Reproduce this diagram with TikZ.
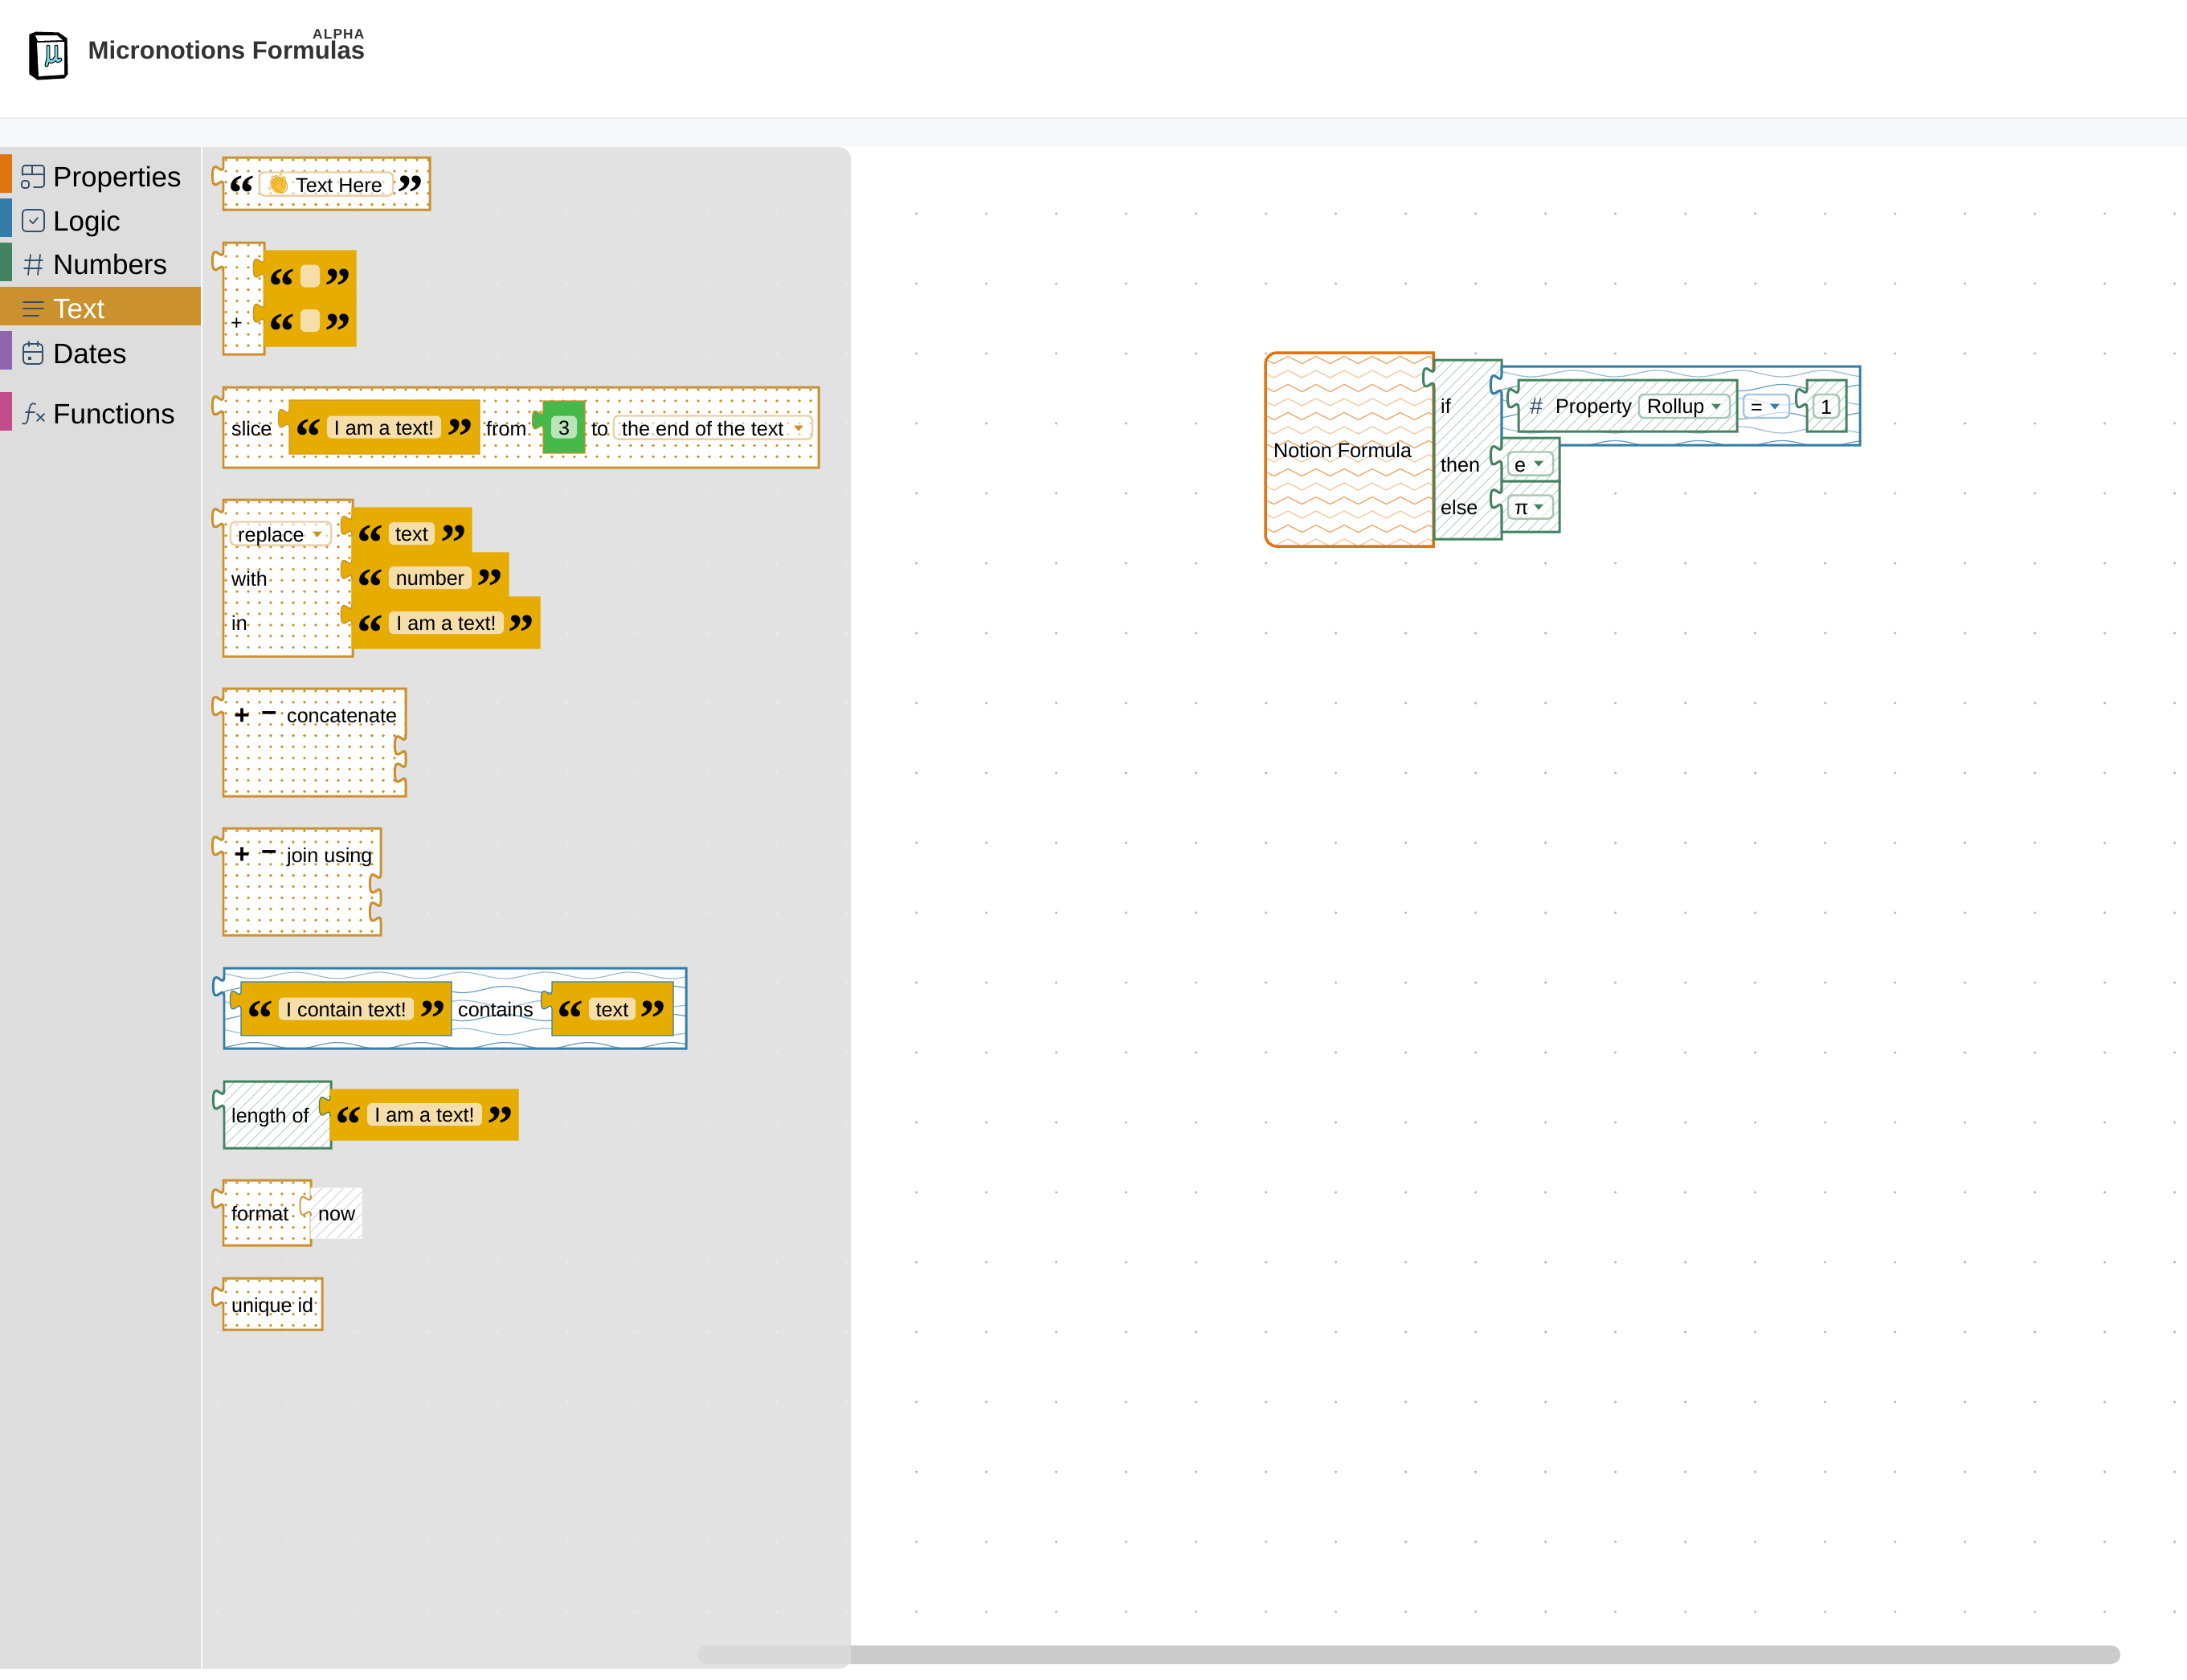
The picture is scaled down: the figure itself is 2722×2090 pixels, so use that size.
\documentclass[tikz,border=0pt]{standalone}
\usepackage{fontspec}
\setmainfont{Liberation Sans}
\newfontfamily\quotefont{Liberation Serif}
\newfontfamily\emojifont{Noto Emoji}
\newfontfamily\alphafont[LetterSpace=7.0]{Liberation Sans}

\definecolor{textorange}{HTML}{CB912F}
\definecolor{propsorange}{HTML}{DF7410}
\definecolor{logicblue}{HTML}{337EA9}
\definecolor{numgreen}{HTML}{448361}
\definecolor{datepurple}{HTML}{9065B0}
\definecolor{funcpink}{HTML}{C14C8A}
\definecolor{iconink}{HTML}{37506A}
\definecolor{quoteyellow}{HTML}{E6AC00}
\definecolor{pillcream}{HTML}{F5DEA8}
\definecolor{pilltan}{HTML}{E9D2AA}
\definecolor{pillgreen}{HTML}{A6C6B3}
\definecolor{pillblue}{HTML}{A3C6DD}
\definecolor{flyoutgrey}{HTML}{E2E2E2}
\definecolor{sidegrey}{HTML}{DDDDDD}
\definecolor{bandgrey}{HTML}{F7F8FA}
\definecolor{hairgrey}{HTML}{E8ECF0}
\definecolor{barcanvas}{HTML}{CBCBCB}
\definecolor{barflyout}{HTML}{D9D9D9}
\definecolor{logocyan}{HTML}{7FDCE5}
\definecolor{handyellow}{HTML}{F9C23C}
\definecolor{handedge}{HTML}{E39A1A}
\definecolor{numbergreen}{HTML}{45B94A}
\definecolor{numberpill}{HTML}{B9E5B9}

\tikzset{
	blocktext/.style={font=\fontsize{7.15pt}{8pt}\selectfont, inner sep=0pt, anchor=base west, xshift=-.15pt, yshift=-.3pt},
	menutext/.style={font=\fontsize{9.95pt}{11pt}\selectfont, inner sep=0pt, anchor=base west, yshift=-.2pt},
	mathsign/.style={font=\bfseries\fontsize{9.5pt}{10pt}\selectfont, inner sep=0pt},
	qmark/.style={font=\quotefont\bfseries\fontsize{18.6pt}{19pt}\selectfont, inner sep=0pt, anchor=base},
	pill/.style={font=\fontsize{7.15pt}{8pt}\selectfont, inner sep=0pt, rounded corners=1.7pt,
		text height=6.4pt, text depth=1pt, minimum height=.28cm},
	creampill/.style={pill, fill=pillcream},
	linepill/.style={pill, draw=#1, line width=.7pt, fill=white, fill opacity=.6, text opacity=1, minimum height=.29cm},
	icon/.style={draw=iconink, line width=.5pt, line cap=round, line join=round},
	dotfill/.style={fill=textorange},
	hatchline/.style={line width=.28pt},
	blockline/.style={line width=.85pt, line join=miter},
	thinline/.style={line width=.35pt},
}

\newcommand\tabup{.. controls +(0,-17) and +(0,26.35) .. ++(-13.6,-12.75) .. controls +(0,-26.35) and +(0,17) .. ++(13.6,-12.75)}
\newcommand\tabdown{.. controls +(0,17) and +(0,-26.35) .. ++(-13.6,12.75) .. controls +(0,26.35) and +(0,-17) .. ++(13.6,12.75)}

\newcommand\puzzle[6]{\path[#1] (#2,#3) -- (#4,#3) -- (#4,#5) -- (#2,#5) -- (#2,{#6+25.5}) \tabup -- cycle;}

\newcommand\dotsin[4]{
	\pgfmathtruncatemacro\ncols{(#3-#1-3)/14}
	\pgfmathtruncatemacro\nrows{(#4-#2-3)/13.9}
	\foreach \p in {0,...,\ncols} \foreach \q in {0,...,\nrows}
		\fill[dotfill] ({#1+3+14*\p},{#2+3+13.9*\q}) circle (1.9);
}
\newcommand\hatchin[5]{
	\pgfmathtruncatemacro\nlines{(#3-#1+#4-#2)/13.5}
	\begin{scope}
		\clip (#1,#2) rectangle (#3,#4);
		\foreach \k in {0,...,\nlines}
			\draw[hatchline,#5] ({#1-(#4-#2)+13.5*\k},#4) -- ++({#4-#2},{-(#4-#2)});
	\end{scope}
}
\newcommand\wavesin[4]{
	\pgfmathtruncatemacro\nrows{(#4-#2)/17.5}
	\begin{scope}
		\clip (#1,#2) rectangle (#3,#4);
		\foreach \r in {0,...,\nrows} {
			\pgfmathsetmacro\wy{#2+9+17.5*\r}
			\pgfmathsetmacro\ph{-38+180*mod(\r,2)}
			\pgfmathsetmacro\shade{50+25*mod(\r,2)}
			\draw[logicblue!\shade!white, line width=.35pt] plot[domain=#1:#3, samples=40, smooth] (\x,{\wy+4*sin((\x-#1)/104*360+\ph)});
		}
	\end{scope}
}

\newcommand\dotblock[5]{
	\puzzle{fill=white}{#1}{#2}{#3}{#4}{#5}
	\dotsin{#1}{#2}{#3}{#4}
	\puzzle{draw=textorange, blockline}{#1}{#2}{#3}{#4}{#5}
}
\newcommand\hatchblock[6]{
	\puzzle{fill=white}{#1}{#2}{#3}{#4}{#5}
	\hatchin{#1}{#2}{#3}{#4}{#6!40!white}
	\puzzle{draw=#6, blockline}{#1}{#2}{#3}{#4}{#5}
}
\newcommand\waveblock[5]{
	\puzzle{fill=white}{#1}{#2}{#3}{#4}{#5}
	\wavesin{#1}{#2}{#3}{#4}
	\puzzle{draw=logicblue, blockline}{#1}{#2}{#3}{#4}{#5}
}
% child block with its thin rim
\newcommand\flatblock[7]{\puzzle{fill=#6, draw=#7, thinline}{#1}{#2}{#3}{#4}{#5}}
\newcommand\ddarrow[3]{\fill[#3] ({#1-6},{#2-3.5}) -- ({#1+6},{#2-3.5}) -- (#1,{#2+3.5}) -- cycle;}
\newcommand\qopen[3]{\node[qmark] (#1) at (#2,{#3+34}) {“};}
\newcommand\qclose[3]{\node[qmark] (#1) at (#2,{#3+34}) {”};}

\begin{document}
\begin{tikzpicture}[x=.01cm, y=-.01cm]
	\useasboundingbox (0,0) rectangle (2722,2090);
	\fill[white] (0,0) rectangle (2722,2090);

	% header
	\fill[bandgrey] (0,148) rectangle (2722,183);
	\fill[hairgrey] (0,146) rectangle (2722,148);
	\begin{scope}
		\filldraw[black, line width=.3pt, line join=round] (37,43) -- (45,40) -- (73,41) -- (83,48) -- (84,92) -- (80,97) -- (47,99) -- (37,92) -- cycle;
		\fill[white] (44,44) -- (71,44) -- (78,50) -- (47,51) -- cycle;
		\fill[white] (46,53) -- (80,52) -- (80,93) -- (48,95) -- cycle;
		\foreach \ink/\wd in {black/1.4pt, logocyan/.75pt}
			\draw[\ink, line width=\wd, line cap=round] (60,58) -- (60,73) .. controls (60,78) and (67,78) .. (69,72) (70,58) -- (70,72) .. controls (70,77) and (73,76) .. (75,74) (60,73) -- (58,81);
	\end{scope}
	\node[inner sep=0pt, anchor=base west, text=black!80, font=\bfseries\fontsize{8.86pt}{10pt}\selectfont] (appTitle) at (109,73) {Micronotions Formulas};
	\node[inner sep=0pt, anchor=base east, text=black!80, font=\alphafont\bfseries\fontsize{4.9pt}{5pt}\selectfont] (appBadge) at (454,48) {ALPHA};

	% canvas dots and scrollbar
	\foreach \i in {10,...,28} \foreach \j in {0,...,20}
		\fill[black!28] ({1140.6+87*(\i-10)},{266+87*\j}) circle (1.7);
	\fill[barcanvas, rounded corners=3.2pt] (868,2048) rectangle (2639,2071);

	% sidebar and flyout
	\fill[sidegrey] (0,183) rectangle (250,2077);
	\fill[white!85!flyoutgrey] (250,183) rectangle (252,2077);
	\fill[flyoutgrey] (252,183) [rounded corners=4.3pt] -- (1059,183) -- (1059,2077) [sharp corners] -- (252,2077) -- cycle;
	\begin{scope}
		\clip (252,183) rectangle (1059,2077);
		\fill[barflyout, rounded corners=3.2pt] (868,2048) rectangle (2639,2071);
	\end{scope}
	\foreach \i in {0,...,9} \foreach \j in {0,...,20}
		\fill[black!7] ({271+87*\i},{266+87*\j}) circle (1.6);

	\fill[propsorange] (0,192) rectangle (15,240);
	\fill[logicblue] (0,247) rectangle (15,295);
	\fill[numgreen] (0,302) rectangle (15,350);
	\fill[textorange] (0,357) rectangle (250,405);
	\fill[datepurple] (0,412) rectangle (15,460);
	\fill[funcpink] (0,488) rectangle (15,536);

	\node[menutext] (propsItem) at (65.5,232) {Properties};
	\node[menutext] (logicItem) at (65.5,287) {Logic};
	\node[menutext] (numItem) at (65.5,341) {Numbers};
	\node[menutext, text=white] (textItem) at (65.5,396) {Text};
	\node[menutext] (datesItem) at (65.5,452) {Dates};
	\node[menutext] (funcItem) at (65.5,527) {Functions};

	% menu icons
	\draw[icon, rounded corners=.9pt] (28,218) -- (28,206) -- (55,206) -- (55,233) -- (42,233);
	\draw[icon] (28,217) -- (55,217) (40,206) -- (40,217);
	\draw[icon, rounded corners=.8pt] (27,225) rectangle (36,234);
	\draw[icon, rounded corners=1.2pt] (28,261) rectangle (55,288);
	\draw[icon] (37,274) -- (41,278) -- (47,271);
	\draw[icon] (38,317) -- (35,342) (50,317) -- (47,342) (31,324) -- (53,324) (30,334) -- (52,334);
	\draw[icon] (29,376) -- (54,376) (29,384) -- (54,384) (29,393) -- (48,393);
	\draw[icon, rounded corners=1.2pt] (29,428) rectangle (53,453);
	\draw[icon] (29,438) -- (53,438) (36,425) -- (36,431) (47,425) -- (47,431);
	\fill[iconink] (35,444) rectangle (39,448);
	\draw[icon] (44,503) .. controls (38,500) and (37,506) .. (36,512) .. controls (35,519) and (35,530) .. (28,527) (32,513) -- (43,513) (46,515) -- (55,524) (55,515) -- (46,524);

	% text literal
	\dotblock{278}{196}{535}{261}{206}
	\node[linepill=pilltan, minimum width=1.66cm] (hereField) at (406,229) {};
	\qopen{hereOpen}{301}{228}
	\fill[handyellow] (347,230) ellipse (9.5 and 10.5);
	\node[inner sep=0pt, text=handedge, font=\emojifont\fontsize{7pt}{8pt}\selectfont] (hereHand) at (346,228) {👋};
	\node[blocktext] (hereText) at (368,238) {Text Here};
	\qclose{hereClose}{511}{228}

	% plus
	\dotblock{278}{302}{329}{441}{312}
	\flatblock{329}{312}{443}{376}{321}{quoteyellow}{quoteyellow}
	\flatblock{329}{376}{443}{431}{377}{quoteyellow}{quoteyellow}
	\draw[textorange, thinline] (329,346.5) \tabup;
	\draw[textorange, thinline] (329,402.5) \tabup;
	\node[blocktext, anchor=center] (plusText) at (295,402) {+};
	\qopen{plusOpenA}{351}{344}
	\node[creampill, minimum width=.24cm] (plusFieldA) at (386,343.5) {};
	\qclose{plusCloseA}{421}{344}
	\qopen{plusOpenB}{351}{400}
	\node[creampill, minimum width=.24cm] (plusFieldB) at (386,399) {};
	\qclose{plusCloseB}{421}{400}

	% slice
	\dotblock{278}{482}{1019}{582}{492}
	\node[blocktext] (sliceText) at (288,541) {slice};
	\flatblock{360}{498}{597}{565}{508}{quoteyellow}{textorange!70!quoteyellow}
	\qopen{sliceOpen}{384}{531}
	\node[creampill, minimum width=1.42cm] (sliceField) at (478,531.5) {I am a text!};
	\qclose{sliceClose}{573}{531}
	\node[blocktext] (fromText) at (605,541) {from};
	\flatblock{676}{499}{728}{564}{510}{numbergreen}{textorange}
	\node[pill, fill=numberpill, minimum width=.32cm] (fromField) at (702,531.5) {3};
	\node[blocktext] (toText) at (736,541) {to};
	\node[linepill=pilltan, minimum width=2.47cm] (toField) at (887.5,532) {};
	\node[blocktext] (toValue) at (774,541) {the end of the text};
	\ddarrow{994}{533}{textorange}

	% replace
	\dotblock{278}{622}{439}{817}{632}
	\node[linepill=pilltan, minimum width=1.25cm] (replaceField) at (349.5,664) {};
	\node[blocktext] (replaceText) at (296,673) {replace};
	\ddarrow{395}{665}{textorange}
	\node[blocktext] (withText) at (288,728) {with};
	\node[blocktext] (inText) at (288,783) {in};
	\flatblock{438}{632}{587}{688}{641}{quoteyellow}{quoteyellow}
	\flatblock{438}{688}{633}{743}{696}{quoteyellow}{quoteyellow}
	\flatblock{438}{743}{672}{807}{752}{quoteyellow}{quoteyellow}
	\draw[textorange, thinline] (438,666.5) \tabup;
	\draw[textorange, thinline] (438,721.5) \tabup;
	\draw[textorange, thinline] (438,777.5) \tabup;
	\qopen{replaceOpenA}{461}{663}
	\node[creampill, minimum width=.57cm] (replaceFieldA) at (512.5,664) {text};
	\qclose{replaceCloseA}{565}{663}
	\qopen{replaceOpenB}{461}{718}
	\node[creampill, minimum width=1.03cm] (replaceFieldB) at (535.5,719) {number};
	\qclose{replaceCloseB}{610}{718}
	\qopen{replaceOpenC}{461}{775}
	\node[creampill, minimum width=1.43cm] (replaceFieldC) at (555.5,775) {I am a text!};
	\qclose{replaceCloseC}{649}{775}

	% concatenate
	\def\concatshape{(278,857) -- (505,857) -- (505,915) \tabdown -- (505,949) \tabdown -- (505,991) -- (278,991) -- (278,891.5) \tabup -- cycle}
	\fill[white] \concatshape;
	\begin{scope}
		\clip \concatshape;
		\dotsin{278}{857}{505}{991}
	\end{scope}
	\draw[textorange, blockline] \concatshape;
	\node[mathsign] (concatPlus) at (301,892) {+};
	\node[mathsign] (concatMinus) at (335,892) {−};
	\node[blocktext] (concatText) at (357,898) {concatenate};

	% join using
	\def\joinshape{(278,1031) -- (474,1031) -- (474,1087) \tabdown -- (474,1122) \tabdown -- (474,1164) -- (278,1164) -- (278,1065.5) \tabup -- cycle}
	\fill[white] \joinshape;
	\begin{scope}
		\clip \joinshape;
		\dotsin{278}{1031}{474}{1164}
	\end{scope}
	\draw[textorange, blockline] \joinshape;
	\node[mathsign] (joinPlus) at (301,1065) {+};
	\node[mathsign] (joinMinus) at (335,1065) {−};
	\node[blocktext] (joinText) at (357,1072) {join using};

	% contains
	\waveblock{279}{1205}{854}{1305}{1215}
	\flatblock{300}{1222}{562}{1289}{1232}{quoteyellow}{logicblue}
	\qopen{containsOpenA}{324}{1255}
	\node[creampill, minimum width=1.68cm] (containsFieldA) at (431,1255.5) {I contain text!};
	\qclose{containsCloseA}{539}{1255}
	\node[blocktext] (containsText) at (570,1264) {contains};
	\flatblock{687}{1222}{838}{1289}{1232}{quoteyellow}{logicblue}
	\qopen{containsOpenB}{710}{1255}
	\node[creampill, minimum width=.58cm] (containsFieldB) at (762,1255.5) {text};
	\qclose{containsCloseB}{813}{1255}

	% length of
	\hatchblock{279}{1346}{412}{1429}{1356}{numgreen}
	\node[blocktext] (lengthText) at (288,1396) {length of};
	\flatblock{411}{1356}{645}{1419}{1364}{quoteyellow}{quoteyellow}
	\draw[numgreen, thinline] (411,1389.5) \tabup;
	\qopen{lengthOpen}{434}{1387}
	\node[creampill, minimum width=1.43cm] (lengthField) at (528.5,1387) {I am a text!};
	\qclose{lengthClose}{623}{1387}

	% format
	\dotblock{278}{1469}{387}{1550}{1479}
	\node[blocktext] (formatText) at (288,1518) {format};
	\puzzle{fill=white, draw=white, thinline}{387}{1479}{450}{1541}{1488}
	\hatchin{387}{1479}{450}{1541}{datepurple!35!white}
	\draw[textorange, line width=.5pt] (387,1513.5) \tabup;
	\node[blocktext] (nowText) at (396,1518) {now};

	% unique id
	\dotblock{278}{1591}{401}{1655}{1601}
	\node[blocktext] (uniqueText) at (288,1632) {unique id};

	% formula on the canvas
	\def\rootshape{(1784,439) [rounded corners=4pt] -- (1575,439) -- (1575,680) [sharp corners] -- (1784,680) -- cycle}
	\fill[white] \rootshape;
	\begin{scope}
		\clip \rootshape;
		\foreach \r in {0,...,13} {
			\pgfmathsetmacro\shade{65-25*mod(\r,2)}
			\draw[propsorange!\shade!white, line width=.35pt] (1568,{443.5+17.5*\r}) \foreach \z in {0,...,6} { -- ++(17.5,9) -- ++(17.5,-9) };
		}
	\end{scope}
	\draw[propsorange, line width=1pt] \rootshape;
	\node[blocktext] (rootText) at (1585,568) {Notion Formula};

	\hatchblock{1785}{448}{1869}{671}{457}{numgreen}
	\node[blocktext] (ifText) at (1793,513) {if};
	\node[blocktext] (thenText) at (1793,586) {then};
	\node[blocktext] (elseText) at (1793,639) {else};

	\waveblock{1869}{456}{2315}{554}{466}

	\hatchblock{1890}{473}{2162}{537}{483}{numgreen}
	\node[blocktext, text=iconink, font=\fontsize{8.2pt}{9pt}\selectfont] (propHash) at (1904,514) {\#};
	\node[blocktext] (propText) at (1936,513) {Property};
	\node[linepill=pillgreen, minimum width=1.13cm] (propField) at (2096.5,505.5) {};
	\node[blocktext] (propValue) at (2050,513) {Rollup};
	\ddarrow{2136}{506}{numgreen}

	\node[linepill=pillblue, minimum width=.57cm] (opField) at (2198.5,505.5) {};
	\node[blocktext] (opValue) at (2179,514) {=};
	\ddarrow{2209}{506}{logicblue}

	\hatchblock{2249}{473}{2298}{537}{483}{numgreen}
	\node[linepill=pillgreen, minimum width=.32cm] (oneField) at (2273,505.5) {1};

	\hatchblock{1869}{545}{1941}{599}{554}{numgreen}
	\node[linepill=pillgreen, minimum width=.56cm] (eField) at (1905,577) {};
	\node[blocktext] (eValue) at (1885,586) {e};
	\ddarrow{1915}{577}{numgreen}

	\hatchblock{1869}{599}{1941}{662}{608}{numgreen}
	\node[linepill=pillgreen, minimum width=.56cm] (piField) at (1905,631) {};
	\node[blocktext] (piValue) at (1885,639) {π};
	\ddarrow{1915}{631}{numgreen}
\end{tikzpicture}
\end{document}
